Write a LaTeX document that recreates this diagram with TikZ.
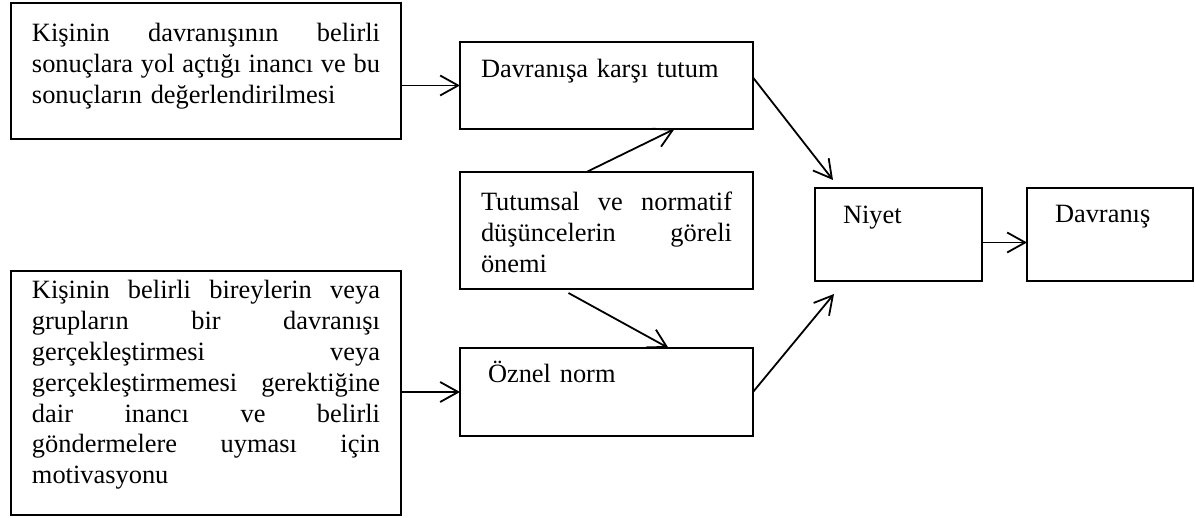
\documentclass[tikz,border=0pt]{standalone}
\usepackage{fontspec}
\setmainfont{Liberation Serif}
\usetikzlibrary{arrows.meta}
\newcommand{\jline}[1]{\leavevmode\hbox to \hsize{\spaceskip=0.25em plus 1fil\relax#1}}

\begin{document}
\begin{tikzpicture}[x=0.5pt,y=-0.5pt,
    box/.style={draw,line width=0.9pt,anchor=north west,outer sep=0pt,inner ysep=0pt,
      align=left,font=\fontsize{13.2pt}{15.4pt}\selectfont},
    arr/.style={-{Straight Barb[length=9pt,width=10pt]},line width=0.9pt}]
    \useasboundingbox (0,0) rectangle (1195,518);

    \node[box,text width=174pt,inner xsep=10.5pt,text height=19.5pt,text depth=48.5pt] (belief) at (11,3)
      {\jline{Kişinin davranışının belirli}\\\jline{sonuçlara yol açtığı inancı ve bu}\\sonuçların değerlendirilmesi};
    \node[box,text width=174pt,inner xsep=10.5pt,text height=14pt,text depth=108pt] (refer) at (11,271)
      {\jline{Kişinin belirli bireylerin veya}\\\jline{grupların bir davranışı}\\\jline{gerçekleştirmesi veya}\\
       \jline{gerçekleştirmemesi gerektiğine}\\\jline{dair inancı ve belirli}\\\jline{göndermelere uyması için}\\motivasyonu};

    \node[box,text width=125.5pt,inner xsep=10.5pt,text height=18pt,text depth=25.5pt] (tutum) at (460,42) {Davranışa karşı tutum};
    \node[box,text width=125.5pt,inner xsep=10.5pt,text height=19.5pt,text depth=39pt] (onem) at (460,172)
      {\jline{Tutumsal ve normatif}\\\jline{düşüncelerin göreli}\\önemi};
    \node[box,text width=118.5pt,inner xsep=14pt,text height=17.5pt,text depth=26.5pt] (norm) at (460,348) {Öznel norm};

    \node[box,text width=55.5pt,inner xsep=14pt,text height=18pt,text depth=28.5pt] (niyet) at (815,188) {Niyet};
    \node[box,text width=55pt,inner xsep=14pt,text height=17.5pt,text depth=29pt] (davranis) at (1027,188) {Davranış};

    % girdiler
    \draw[arr] (belief.east |- tutum.west) -- (tutum.west);
    \draw[arr] (refer.east |- norm.west) -- (norm.west);
    \draw[arr] ([xshift=-10pt]onem.north) -- ([xshift=34pt]tutum.south);
    \draw[arr] ([xshift=-19pt,yshift=-2pt]onem.south) -- ([xshift=31pt]norm.north);

    % niyet ve davranis
    \draw[arr] ([yshift=4pt]tutum.east) -- ([xshift=9pt,yshift=4pt]niyet.north west);
    \draw[arr] (norm.east) -- ([xshift=9.5pt,yshift=-6.5pt]niyet.south west);
    \draw[arr] ([yshift=-4pt]niyet.east) -- ([yshift=-4pt]davranis.west);
  \end{tikzpicture}
\end{document}
